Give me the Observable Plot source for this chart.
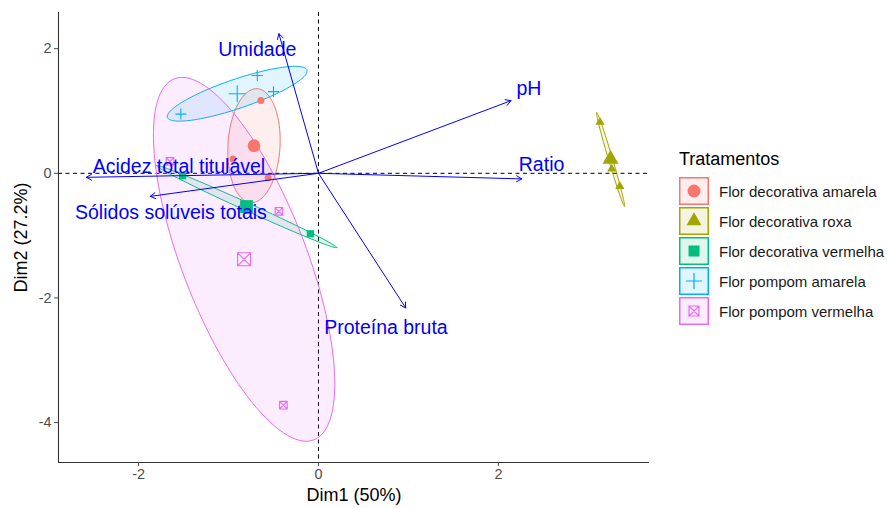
<!DOCTYPE html>
<html>
<head>
<meta charset="utf-8">
<script src="https://cdn.jsdelivr.net/npm/d3@7"></script>
<script src="https://cdn.jsdelivr.net/npm/@observablehq/plot@0.6"></script>
<style>
  body { margin: 0; background: #fff; font-family: "Liberation Sans", Arial, sans-serif; }
  #wrap { position: relative; width: 887px; height: 508px; overflow: hidden; }
  #chart { position: absolute; left: 0; top: 0; }
  #legend { position: absolute; left: 679px; top: 146px; }
  #legend .title { font-size: 18px; color: #000; height: 30px; line-height: 26px; }
  #legend .row { display: flex; align-items: center; height: 30px; }
  #legend .row svg { display: block; }
  #legend .row span { font-size: 15px; color: #1a1a1a; margin-left: 10px; }
</style>
</head>
<body>
<div id="wrap"><div id="chart"></div><div id="legend"></div></div>
<script>
// ---- data ----
const groups = ["Flor decorativa amarela", "Flor decorativa roxa", "Flor decorativa vermelha", "Flor pompom amarela", "Flor pompom vermelha"];
const groupColors = ["#F8766D", "#A3A500", "#00BF7D", "#00B0F6", "#E76BF3"];
const legendTitle = "Tratamentos";

// individuals (3 per treatment)
const indGroup = [
  "Flor decorativa amarela", "Flor decorativa amarela", "Flor decorativa amarela",
  "Flor decorativa roxa", "Flor decorativa roxa", "Flor decorativa roxa",
  "Flor decorativa vermelha", "Flor decorativa vermelha", "Flor decorativa vermelha",
  "Flor pompom amarela", "Flor pompom amarela", "Flor pompom amarela",
  "Flor pompom vermelha", "Flor pompom vermelha", "Flor pompom vermelha"
];
const indDim1 = [-0.64, -0.95, -0.56,  3.13, 3.26, 3.35,  -1.51, -0.80, -0.09,  -1.53, -0.68, -0.50,  -1.65, -0.44, -0.39];
const indDim2 = [ 1.17,  0.23, -0.07,  0.82, 0.07, -0.21, -0.04, -0.59, -0.97,   0.95,  1.57,  1.31,   0.19, -0.61, -3.72];

// variables (arrows)
const varNames = ["Umidade", "pH", "Ratio", "Acidez total titulável", "Sólidos solúveis totais", "Proteína bruta"];
const varDim1 = [-0.44, 2.14, 2.26, -2.58, -1.87, 0.97];
const varDim2 = [ 2.24, 1.165, -0.09, -0.064, -0.37, -2.16];
const varLabelDim1 = [-0.68, 2.34, 2.48, -1.55, -1.64, 0.75];
const varLabelDim2 = [ 1.98, 1.35, 0.14,  0.10, -0.64, -2.47];

const xTicks = [-2, 0, 2];
const yTicks = [-4, -2, 0, 2];
const xDomain = [-2.89, 3.68];
const yDomain = [-4.64, 2.58];
const xTitle = "Dim1 (50%)";
const yTitle = "Dim2 (27.2%)";
const CHI2_95_2DF = 5.991;

// ---- symbols ----
const rad = size => Math.sqrt(size / Math.PI);
const symCircle = { draw(ctx, size) { const r = rad(size); ctx.moveTo(r, 0); ctx.arc(0, 0, r, 0, 2 * Math.PI); } };
const symTriangle = { draw(ctx, size) { const r = rad(size), h = r * Math.sqrt(3); ctx.moveTo(0, -2 * h / 3); ctx.lineTo(r, h / 3); ctx.lineTo(-r, h / 3); ctx.closePath(); } };
const symSquare = { draw(ctx, size) { const r = rad(size); ctx.rect(-r, -r, 2 * r, 2 * r); } };
const symPlus = { draw(ctx, size) { const r = rad(size); ctx.moveTo(-r, 0); ctx.lineTo(r, 0); ctx.moveTo(0, -r); ctx.lineTo(0, r); } };
const symSquareX = { draw(ctx, size) { const r = rad(size); ctx.rect(-r, -r, 2 * r, 2 * r); ctx.moveTo(-r, -r); ctx.lineTo(r, r); ctx.moveTo(r, -r); ctx.lineTo(-r, r); } };
const groupSymbols = [symCircle, symTriangle, symSquare, symPlus, symSquareX];
const groupFilled = [true, true, true, false, false];
const smallR = [3.5, 4.6, 3.6, 5.5, 3.8];
const meanR = [6.3, 8, 6.4, 8.5, 6.5];

// ---- derived tables ----
const ind = indDim1.map((x, i) => ({ x, y: indDim2[i], g: indGroup[i] }));
const means = groups.map(g => {
  const p = ind.filter(d => d.g === g);
  return { g, x: d3.mean(p, d => d.x), y: d3.mean(p, d => d.y) };
});
function confEllipse(g) {
  const p = ind.filter(d => d.g === g), n = p.length;
  const mx = d3.mean(p, d => d.x), my = d3.mean(p, d => d.y);
  let sxx = 0, syy = 0, sxy = 0;
  for (const q of p) { const dx = q.x - mx, dy = q.y - my; sxx += dx * dx; syy += dy * dy; sxy += dx * dy; }
  const k = CHI2_95_2DF / n / (n - 1);
  const a = sxx * k, b = sxy * k, c = syy * k;
  const tr = a + c, det = a * c - b * b, disc = Math.sqrt(Math.max(tr * tr / 4 - det, 0));
  const l1 = tr / 2 + disc, l2 = tr / 2 - disc;
  let vx, vy;
  if (Math.abs(b) > 1e-12) { vx = l1 - c; vy = b; } else { vx = a >= c ? 1 : 0; vy = a >= c ? 0 : 1; }
  const nn = Math.hypot(vx, vy); vx /= nn; vy /= nn;
  const s1 = Math.sqrt(l1), s2 = Math.sqrt(Math.max(l2, 0));
  return d3.range(120).map(i => {
    const t = 2 * Math.PI * i / 120, u = Math.cos(t) * s1, v = Math.sin(t) * s2;
    return { g, x: mx + u * vx - v * vy, y: my + u * vy + v * vx };
  });
}
const vars = varNames.map((name, i) => ({ name, x: varDim1[i], y: varDim2[i], lx: varLabelDim1[i], ly: varLabelDim2[i] }));

const ellipseMarks = groups.map((g, i) => Plot.line(confEllipse(g), {
  x: "x", y: "y", curve: "linear-closed",
  fill: groupColors[i], fillOpacity: 0.12, stroke: groupColors[i], strokeWidth: 1
}));
function dotStyle(i, r) {
  return groupFilled[i]
    ? { symbol: groupSymbols[i], r, fill: groupColors[i], stroke: "none" }
    : { symbol: groupSymbols[i], r, fill: "none", stroke: groupColors[i], strokeWidth: 1.1 };
}
const pointMarks = groups.map((g, i) => Plot.dot(ind.filter(d => d.g === g), { x: "x", y: "y", ...dotStyle(i, smallR[i]) }));
const meanMarks = groups.map((g, i) => Plot.dot(means.filter(d => d.g === g), { x: "x", y: "y", ...dotStyle(i, meanR[i]) }));

const chart = Plot.plot({
  width: 660,
  height: 508,
  marginLeft: 58,
  marginRight: 11,
  marginTop: 12,
  marginBottom: 46,
  style: { fontFamily: "'Liberation Sans', Arial, sans-serif", background: "white", overflow: "visible" },
  x: { domain: xDomain },
  y: { domain: yDomain },
  marks: [
    Plot.ruleX([0], { stroke: "#000", strokeDasharray: "4,3.5", strokeWidth: 1 }),
    Plot.ruleY([0], { stroke: "#000", strokeDasharray: "4,3.5", strokeWidth: 1 }),
    ...ellipseMarks,
    ...pointMarks,
    ...meanMarks,
    Plot.arrow(vars, { x1: 0, y1: 0, x2: "x", y2: "y", stroke: "#0000FF", strokeWidth: 1, headLength: 9, headAngle: 60 }),
    Plot.text(vars, { x: "lx", y: "ly", text: "name", fill: "#0000FF", fontSize: 19.5 }),
    Plot.ruleX([xDomain[0]], { stroke: "#333", strokeWidth: 1.1 }),
    Plot.ruleY([yDomain[0]], { stroke: "#333", strokeWidth: 1.1 }),
    Plot.axisX({ ticks: xTicks, tickSize: 4, tickPadding: 2, fontSize: 14.4, color: "#4D4D4D", tickFormat: d => String(d), label: null }),
    Plot.axisY({ ticks: yTicks, tickSize: 4, tickPadding: 3, fontSize: 14.4, color: "#4D4D4D", tickFormat: d => String(d), label: null }),
    Plot.text([xTitle], { frameAnchor: "bottom", lineAnchor: "middle", dy: 33, fontSize: 18, fill: "#000" }),
    Plot.text([yTitle], { frameAnchor: "left", textAnchor: "middle", lineAnchor: "middle", dx: -37, rotate: -90, fontSize: 18, fill: "#000" })
  ]
});
document.getElementById("chart").appendChild(chart);

// ---- legend ----
const legend = d3.select("#legend");
legend.append("div").attr("class", "title").text(legendTitle);
const legendR = [6.5, 7.5, 5.5, 8, 5];
groups.forEach((g, i) => {
  const row = legend.append("div").attr("class", "row");
  const svg = row.append("svg").attr("width", 30).attr("height", 28);
  svg.append("rect").attr("x", 0.75).attr("y", 0.75).attr("width", 28.5).attr("height", 26.5)
    .attr("fill", groupColors[i]).attr("fill-opacity", 0.12).attr("stroke", groupColors[i]).attr("stroke-width", 1.5);
  const path = d3.symbol(groupSymbols[i], Math.PI * legendR[i] * legendR[i])();
  const sym = svg.append("path").attr("d", path).attr("transform", "translate(15,14)");
  if (groupFilled[i]) sym.attr("fill", groupColors[i]);
  else sym.attr("fill", "none").attr("stroke", groupColors[i]).attr("stroke-width", 1.2);
  row.append("span").text(g);
});
</script>
</body>
</html>
